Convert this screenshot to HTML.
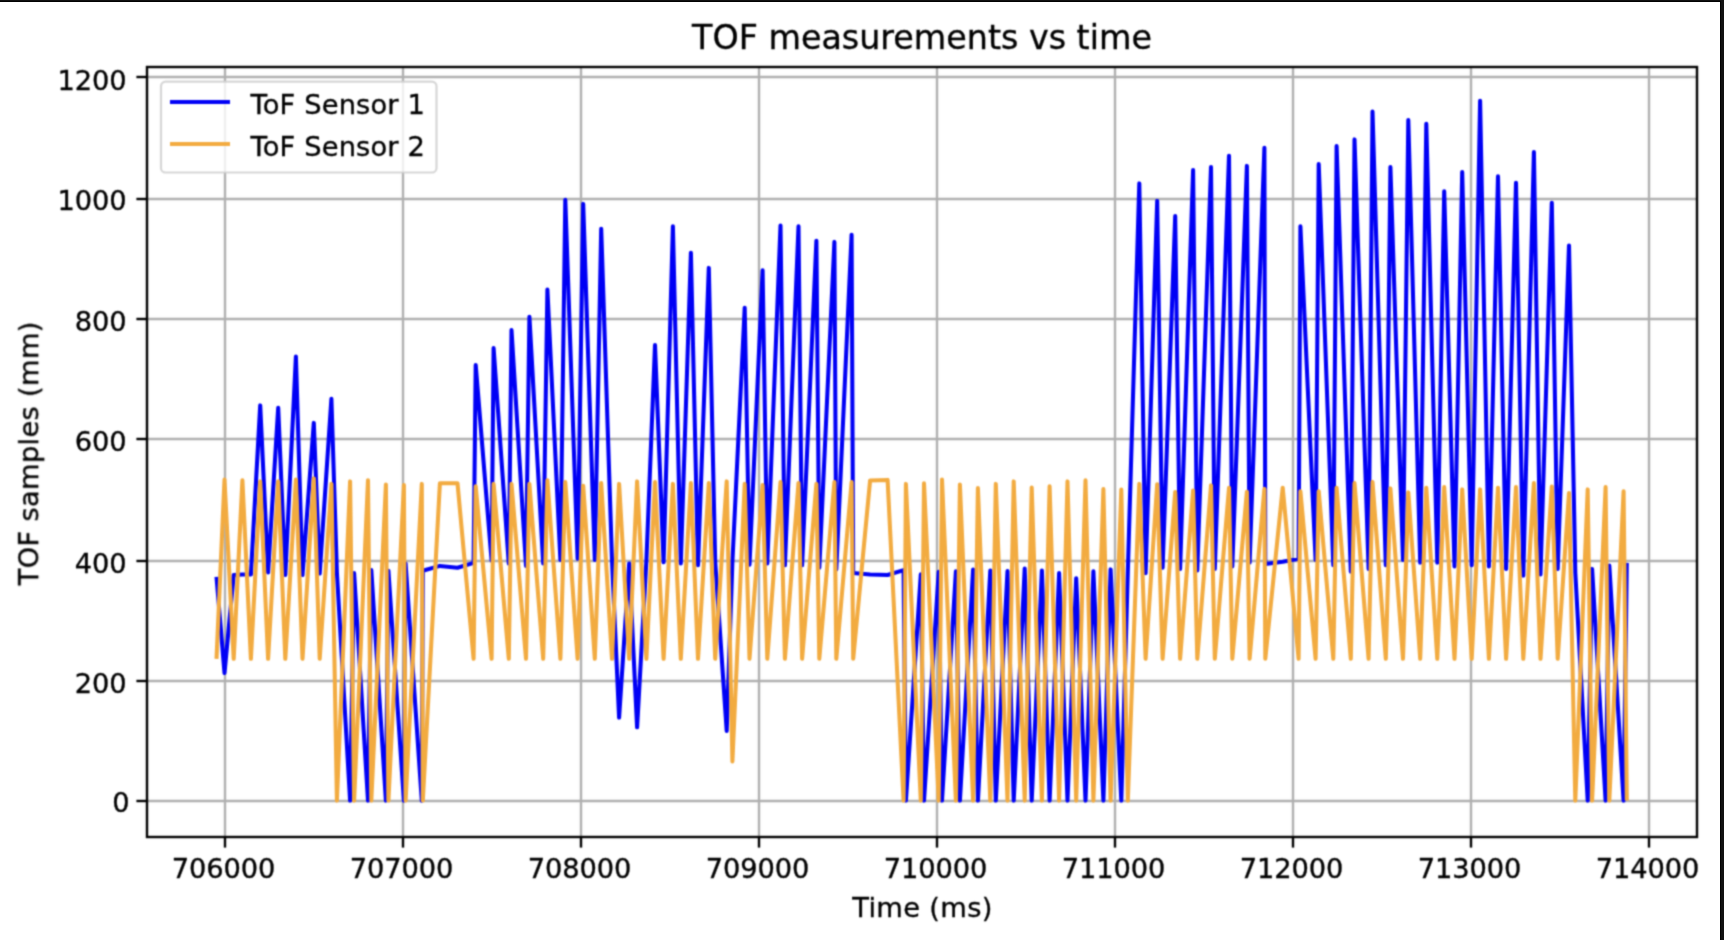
<!DOCTYPE html>
<html lang="en"><head><meta charset="utf-8"><title>TOF measurements vs time</title>
<style>html,body{margin:0;padding:0;background:#fff;}body{width:1724px;height:940px;overflow:hidden;}svg{display:block;}text{font-family:"DejaVu Sans","Liberation Sans",sans-serif;fill:#000000;stroke:#000;stroke-width:0.35px;}</style></head><body>
<svg width="1724" height="940" viewBox="0 0 1724 940">
<defs><clipPath id="ax"><rect x="147.0" y="67.0" width="1550.0" height="770.0"/></clipPath>
<filter id="soft" filterUnits="userSpaceOnUse" x="0" y="0" width="1724" height="940" color-interpolation-filters="sRGB"><feConvolveMatrix order="5 1" kernelMatrix="0.01045 0.21040 0.55831 0.21040 0.01045" edgeMode="duplicate" result="h"/><feConvolveMatrix in="h" order="1 5" kernelMatrix="0.01045 0.21040 0.55831 0.21040 0.01045" edgeMode="duplicate"/></filter></defs>
<rect x="0" y="0" width="1724" height="940" fill="#ffffff"/>
<g filter="url(#soft)">
<g stroke="#b0b0b0" stroke-width="2.4" fill="none">
<line x1="225" y1="67.0" x2="225" y2="837.0"/>
<line x1="403" y1="67.0" x2="403" y2="837.0"/>
<line x1="581" y1="67.0" x2="581" y2="837.0"/>
<line x1="759" y1="67.0" x2="759" y2="837.0"/>
<line x1="937" y1="67.0" x2="937" y2="837.0"/>
<line x1="1115" y1="67.0" x2="1115" y2="837.0"/>
<line x1="1293" y1="67.0" x2="1293" y2="837.0"/>
<line x1="1471" y1="67.0" x2="1471" y2="837.0"/>
<line x1="1649" y1="67.0" x2="1649" y2="837.0"/>
<line x1="147.0" y1="801" x2="1697.0" y2="801"/>
<line x1="147.0" y1="681" x2="1697.0" y2="681"/>
<line x1="147.0" y1="561" x2="1697.0" y2="561"/>
<line x1="147.0" y1="439" x2="1697.0" y2="439"/>
<line x1="147.0" y1="319" x2="1697.0" y2="319"/>
<line x1="147.0" y1="199" x2="1697.0" y2="199"/>
<line x1="147.0" y1="77" x2="1697.0" y2="77"/>
</g>
<g clip-path="url(#ax)" fill="none" stroke-linejoin="round" stroke-linecap="butt">
<polyline stroke="#0000f5" stroke-width="4.05" points="216.5,576.8 224.5,673.0 233.7,575.0 242.4,574.4 250.9,574.4 260.2,405.4 268.1,572.5 278.2,407.8 285.3,575.0 295.9,356.6 302.5,575.0 313.8,422.9 319.7,573.5 331.4,398.8 336.9,572.5 350.1,800.6 354.1,573.1 368.0,800.6 371.3,570.1 385.9,800.6 388.4,570.7 403.9,800.6 405.6,563.5 421.8,800.6 422.8,570.7 439.9,565.9 457.5,567.7 473.6,562.9 475.7,365.0 491.6,560.5 493.6,348.1 508.8,563.5 511.5,330.0 526.0,565.9 529.4,316.7 543.2,563.5 547.4,289.6 560.4,559.9 565.3,199.7 577.6,558.7 583.2,203.9 594.8,559.9 601.2,228.7 612.0,560.5 619.1,717.6 629.2,563.5 637.1,727.3 646.4,560.5 655.0,345.1 663.6,562.3 672.9,226.3 680.8,563.5 690.9,252.8 698.0,565.3 708.8,267.9 715.2,561.7 726.7,730.9 732.4,561.7 744.7,307.7 749.5,564.7 762.6,270.3 767.3,563.5 780.5,225.6 784.9,565.3 798.5,226.3 802.1,565.3 816.4,240.7 819.3,567.7 834.4,241.9 836.3,569.5 851.6,234.7 853.2,573.1 870.1,574.4 887.6,575.0 903.6,570.1 905.9,800.6 920.8,574.4 924.0,800.6 938.7,571.9 942.0,800.6 955.9,571.3 959.9,800.6 973.1,569.5 977.9,800.6 990.3,570.5 995.8,800.6 1007.5,571.0 1013.7,800.6 1024.7,568.6 1031.7,800.6 1041.9,570.5 1049.6,800.6 1059.1,573.1 1067.5,800.6 1076.2,578.2 1085.5,800.6 1093.4,571.3 1103.4,800.6 1110.6,569.4 1121.3,800.6 1127.8,572.5 1139.3,183.4 1145.6,573.1 1157.2,200.9 1162.6,567.7 1175.2,216.0 1180.1,568.9 1193.1,170.1 1197.3,570.4 1211.0,167.1 1214.8,568.9 1229.0,155.7 1232.3,566.5 1246.9,165.9 1249.6,562.6 1264.4,147.8 1265.3,564.1 1282.7,561.7 1298.6,558.7 1300.4,226.3 1315.6,559.9 1318.7,164.1 1333.3,565.3 1336.6,146.0 1350.8,571.6 1354.5,139.4 1368.6,568.9 1372.5,111.6 1385.8,565.3 1390.4,167.1 1403.0,559.9 1408.3,120.1 1420.2,562.6 1426.3,123.7 1437.3,562.6 1444.2,191.3 1454.5,566.5 1462.2,172.0 1471.7,565.3 1480.1,100.8 1488.9,566.5 1498.0,176.2 1506.1,568.9 1516.0,182.8 1523.3,575.6 1533.9,152.0 1540.5,574.4 1551.8,202.7 1557.7,568.9 1569.0,245.6 1575.3,572.5 1587.7,800.6 1592.1,568.9 1605.6,800.6 1609.3,565.6 1623.6,800.6 1626.8,562.9"/>
<polyline stroke="#f2ab40" stroke-width="4.05" points="216.5,658.8 224.5,479.6 233.7,658.8 242.4,480.2 250.9,658.8 260.2,481.4 268.1,658.8 278.2,481.4 285.3,658.8 295.9,479.6 302.5,658.8 313.8,478.4 319.7,658.8 331.4,483.9 336.9,800.6 350.1,481.4 354.1,800.6 368.0,480.2 371.3,800.6 385.9,484.5 388.4,800.6 403.9,485.1 405.6,800.6 421.8,483.9 422.8,800.6 439.9,483.3 457.5,483.3 473.6,658.8 475.7,486.3 491.6,658.8 493.6,483.9 508.8,658.8 511.5,483.9 526.0,658.8 529.4,483.9 543.2,658.8 547.4,480.2 560.4,658.8 565.3,482.1 577.6,658.8 583.2,485.7 594.8,658.8 601.2,483.0 612.0,658.8 619.1,483.9 629.2,658.8 637.1,481.4 646.4,658.8 655.0,482.1 663.6,658.8 672.9,483.9 680.8,658.8 690.9,483.0 698.0,658.8 708.8,483.0 715.2,658.8 726.7,481.4 732.4,761.4 744.7,483.9 749.5,658.8 762.6,485.1 767.3,658.8 780.5,482.1 784.9,658.8 798.5,483.0 802.1,658.8 816.4,483.9 819.3,658.8 834.4,482.1 836.3,658.8 851.6,482.1 853.2,658.8 870.1,480.5 887.6,479.9 903.6,800.6 905.9,483.9 920.8,800.6 924.0,483.3 938.7,800.6 942.0,479.6 955.9,800.6 959.9,484.5 973.1,800.6 977.9,488.1 990.3,800.6 995.8,483.9 1007.5,800.6 1013.7,481.4 1024.7,800.6 1031.7,487.5 1041.9,800.6 1049.6,486.3 1059.1,800.6 1067.5,481.4 1076.2,800.6 1085.5,480.2 1093.4,800.6 1103.4,489.0 1110.6,800.6 1121.3,489.6 1127.8,800.6 1139.3,483.9 1145.6,658.8 1157.2,484.2 1162.6,658.8 1175.2,492.0 1180.1,658.8 1193.1,490.5 1197.3,658.8 1211.0,485.4 1214.8,658.8 1229.0,487.8 1232.3,658.8 1246.9,491.7 1249.6,658.8 1264.4,488.9 1265.3,658.8 1282.7,487.7 1298.6,658.8 1300.4,491.2 1315.6,658.8 1318.7,491.2 1333.3,658.8 1336.6,487.7 1350.8,658.8 1354.5,483.1 1368.6,658.8 1372.5,481.9 1385.8,658.8 1390.4,488.4 1403.0,658.8 1408.3,492.4 1420.2,658.8 1426.3,487.7 1437.3,658.8 1444.2,487.0 1454.5,658.8 1462.2,489.4 1471.7,658.8 1480.1,489.4 1488.9,658.8 1498.0,487.7 1506.1,658.8 1516.0,487.0 1523.3,658.8 1533.9,483.1 1540.5,658.8 1551.8,486.6 1557.7,658.8 1569.0,493.0 1575.3,800.6 1587.7,489.4 1592.1,800.6 1605.6,487.0 1609.3,800.6 1623.6,491.2 1626.8,800.6"/>
</g>
<g stroke="#000000" stroke-width="2.4" fill="none">
<line x1="225" y1="837.0" x2="225" y2="847.6"/>
<line x1="403" y1="837.0" x2="403" y2="847.6"/>
<line x1="581" y1="837.0" x2="581" y2="847.6"/>
<line x1="759" y1="837.0" x2="759" y2="847.6"/>
<line x1="937" y1="837.0" x2="937" y2="847.6"/>
<line x1="1115" y1="837.0" x2="1115" y2="847.6"/>
<line x1="1293" y1="837.0" x2="1293" y2="847.6"/>
<line x1="1471" y1="837.0" x2="1471" y2="847.6"/>
<line x1="1649" y1="837.0" x2="1649" y2="847.6"/>
<line x1="136.4" y1="801" x2="147.0" y2="801"/>
<line x1="136.4" y1="681" x2="147.0" y2="681"/>
<line x1="136.4" y1="561" x2="147.0" y2="561"/>
<line x1="136.4" y1="439" x2="147.0" y2="439"/>
<line x1="136.4" y1="319" x2="147.0" y2="319"/>
<line x1="136.4" y1="199" x2="147.0" y2="199"/>
<line x1="136.4" y1="77" x2="147.0" y2="77"/>
</g>
<rect x="147.0" y="67.0" width="1550.0" height="770.0" fill="none" stroke="#000000" stroke-width="2.4"/>
<rect x="161" y="81.6" width="275.5" height="90.9" rx="4.6" ry="4.6" fill="#ffffff" fill-opacity="0.8" stroke="#cccccc" stroke-opacity="0.8" stroke-width="2.2"/>
<line x1="170" y1="102" x2="230" y2="102" stroke="#0000f5" stroke-width="4.05"/>
<line x1="170" y1="144" x2="230" y2="144" stroke="#f2ab40" stroke-width="4.05"/>
<g font-size="27.3">
<text x="250.5" y="113.6" letter-spacing="0.15">ToF Sensor 1</text>
<text x="250.5" y="155.8" letter-spacing="0.15">ToF Sensor 2</text>
<text x="223.6" y="877.5" text-anchor="middle" letter-spacing="-0.12">706000</text>
<text x="401.6" y="877.5" text-anchor="middle" letter-spacing="-0.12">707000</text>
<text x="579.6" y="877.5" text-anchor="middle" letter-spacing="-0.12">708000</text>
<text x="757.6" y="877.5" text-anchor="middle" letter-spacing="-0.12">709000</text>
<text x="935.6" y="877.5" text-anchor="middle" letter-spacing="-0.12">710000</text>
<text x="1113.6" y="877.5" text-anchor="middle" letter-spacing="-0.12">711000</text>
<text x="1291.6" y="877.5" text-anchor="middle" letter-spacing="-0.12">712000</text>
<text x="1469.6" y="877.5" text-anchor="middle" letter-spacing="-0.12">713000</text>
<text x="1647.6" y="877.5" text-anchor="middle" letter-spacing="-0.12">714000</text>
<text x="129.6" y="812.4" text-anchor="end" letter-spacing="-0.12">0</text>
<text x="126.4" y="692.5" text-anchor="end" letter-spacing="-0.12">200</text>
<text x="126.4" y="572.5" text-anchor="end" letter-spacing="-0.12">400</text>
<text x="126.4" y="450.5" text-anchor="end" letter-spacing="-0.12">600</text>
<text x="126.4" y="330.5" text-anchor="end" letter-spacing="-0.12">800</text>
<text x="126.4" y="210.0" text-anchor="end" letter-spacing="-0.12">1000</text>
<text x="126.4" y="89.6" text-anchor="end" letter-spacing="-0.12">1200</text>
<text x="922.5" y="917.2" text-anchor="middle" letter-spacing="0.3">Time (ms)</text>
<text transform="translate(38.2,453.3) rotate(-90)" text-anchor="middle" letter-spacing="0.3">TOF samples (mm)</text>
</g>
<text x="922" y="49.2" text-anchor="middle" font-size="33.33">TOF measurements vs time</text>
</g>
<rect x="0" y="0" width="1724" height="1" fill="#111111"/>
<rect x="0" y="1" width="1724" height="1" fill="#020202"/>
<rect x="1720" y="1" width="1" height="939" fill="#020202"/>
<rect x="1721" y="0" width="3" height="940" fill="#111111"/>
</svg></body></html>
